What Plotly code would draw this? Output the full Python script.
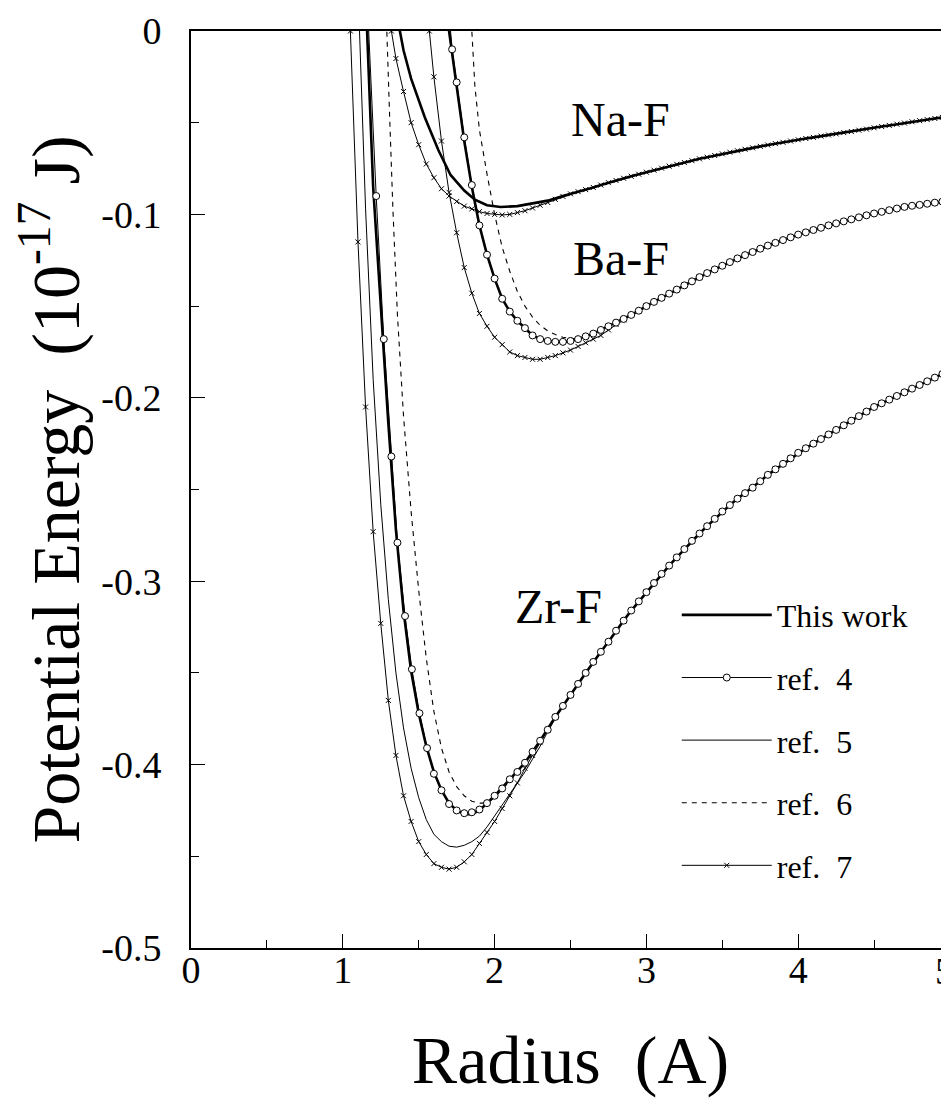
import plotly.graph_objects as go

# ---------------- data ----------------
# shared tails (r >= ~2.5) for each system, 0.05 A step
NA_TAIL_R = [2.65, 2.70, 2.75, 2.80, 2.85, 2.90, 2.95, 3.00, 3.05, 3.10, 3.15, 3.20, 3.25, 3.30, 3.35, 3.40,
             3.45, 3.50, 3.55, 3.60, 3.65, 3.70, 3.75, 3.80, 3.85, 3.90, 3.95, 4.00, 4.05, 4.10, 4.15, 4.20,
             4.25, 4.30, 4.35, 4.40, 4.45, 4.50, 4.55, 4.60, 4.65, 4.70, 4.75, 4.80, 4.85, 4.90, 4.95, 5.00]
NA_TAIL_E = [-0.0853, -0.0840, -0.0827, -0.0815, -0.0803, -0.0792, -0.0781, -0.0770, -0.0759, -0.0748,
             -0.0737, -0.0727, -0.0717, -0.0707, -0.0697, -0.0688, -0.0679, -0.0670, -0.0661, -0.0653,
             -0.0645, -0.0637, -0.0629, -0.0622, -0.0614, -0.0607, -0.0600, -0.0593, -0.0586, -0.0580,
             -0.0573, -0.0567, -0.0561, -0.0554, -0.0548, -0.0541, -0.0535, -0.0528, -0.0521, -0.0515,
             -0.0508, -0.0502, -0.0495, -0.0489, -0.0483, -0.0477, -0.0471, -0.0465]

BA_TAIL_R = [2.50, 2.55, 2.60, 2.65, 2.70, 2.75, 2.80, 2.85, 2.90, 2.95, 3.00, 3.05, 3.10, 3.15, 3.20, 3.25,
             3.30, 3.35, 3.40, 3.45, 3.50, 3.55, 3.60, 3.65, 3.70, 3.75, 3.80, 3.85, 3.90, 3.95, 4.00, 4.05,
             4.10, 4.15, 4.20, 4.25, 4.30, 4.35, 4.40, 4.45, 4.50, 4.55, 4.60, 4.65, 4.70, 4.75, 4.80, 4.85,
             4.90, 4.95, 5.00]
BA_TAIL_E = [-0.1690, -0.1680, -0.1665, -0.1650, -0.1630, -0.1610, -0.1590, -0.1570, -0.1548, -0.1525,
             -0.1500, -0.1477, -0.1455, -0.1432, -0.1410, -0.1387, -0.1365, -0.1342, -0.1320, -0.1300,
             -0.1280, -0.1260, -0.1240, -0.1222, -0.1205, -0.1187, -0.1170, -0.1155, -0.1140, -0.1125,
             -0.1110, -0.1098, -0.1085, -0.1073, -0.1060, -0.1049, -0.1038, -0.1027, -0.1016, -0.1005,
             -0.0995, -0.0986, -0.0977, -0.0968, -0.0959, -0.0953, -0.0948, -0.0942, -0.0936, -0.0930,
             -0.0925]

ZR_TAIL_R = [2.50, 2.55, 2.60, 2.65, 2.70, 2.75, 2.80, 2.85, 2.90, 2.95, 3.00, 3.05, 3.10, 3.15, 3.20, 3.25,
             3.30, 3.35, 3.40, 3.45, 3.50, 3.55, 3.60, 3.65, 3.70, 3.75, 3.80, 3.85, 3.90, 3.95, 4.00, 4.05,
             4.10, 4.15, 4.20, 4.25, 4.30, 4.35, 4.40, 4.45, 4.50, 4.55, 4.60, 4.65, 4.70, 4.75, 4.80, 4.85,
             4.90, 4.95, 5.00]
ZR_TAIL_E = [-0.3620, -0.3560, -0.3500, -0.3440, -0.3385, -0.3330, -0.3270, -0.3215, -0.3160, -0.3110,
             -0.3060, -0.3010, -0.2960, -0.2915, -0.2870, -0.2825, -0.2780, -0.2740, -0.2700, -0.2660,
             -0.2620, -0.2585, -0.2550, -0.2520, -0.2490, -0.2455, -0.2420, -0.2390, -0.2360, -0.2330,
             -0.2300, -0.2275, -0.2250, -0.2225, -0.2200, -0.2175, -0.2150, -0.2125, -0.2100, -0.2075,
             -0.2050, -0.2030, -0.2010, -0.1990, -0.1970, -0.1950, -0.1930, -0.1910, -0.1890, -0.1870,
             -0.1850]

# --- Na-F ---
NA_TW_R = [1.370, 1.376, 1.40, 1.45, 1.54, 1.63, 1.71, 1.80, 1.87, 1.95, 2.04, 2.15, 2.25, 2.35, 2.45, 2.55, 2.60]
NA_TW_E = [0.005, 0.0, -0.0105, -0.026, -0.047, -0.065, -0.0785, -0.087, -0.092, -0.095, -0.096, -0.0955,
           -0.094, -0.0925, -0.0900, -0.0878, -0.0866]
NA_R7_R = [1.32, 1.35, 1.40, 1.45, 1.50, 1.55, 1.60, 1.65, 1.70, 1.75, 1.80, 1.85, 1.90, 1.95, 2.00, 2.05,
           2.10, 2.15, 2.20, 2.25, 2.30, 2.35, 2.40, 2.45, 2.50, 2.55, 2.60]
NA_R7_E = [0.0, -0.015, -0.033, -0.050, -0.062, -0.0725, -0.080, -0.086, -0.090, -0.093, -0.0955, -0.097,
           -0.0985, -0.0995, -0.100, -0.1003, -0.100, -0.099, -0.098, -0.0965, -0.095, -0.0935, -0.0918,
           -0.0902, -0.0888, -0.0876, -0.0865]

# --- Ba-F ---
BA_TW_R = [1.695, 1.70, 1.75, 1.80, 1.85, 1.90, 1.95, 2.00, 2.05, 2.10, 2.15, 2.20, 2.25, 2.30, 2.35, 2.40, 2.45]
BA_TW_E = [0.005, 0.0, -0.030, -0.060, -0.085, -0.106, -0.122, -0.135, -0.146, -0.153, -0.158, -0.162,
           -0.166, -0.168, -0.169, -0.1695, -0.1695]
BA_R4_R = [1.705, 1.72, 1.75, 1.80, 1.85, 1.90, 1.95, 2.00, 2.05, 2.10, 2.15, 2.20, 2.25, 2.30, 2.35, 2.40, 2.45]
BA_R4_E = [0.005, -0.010, -0.028, -0.058, -0.084, -0.106, -0.122, -0.135, -0.146, -0.153, -0.158, -0.162,
           -0.166, -0.168, -0.169, -0.1695, -0.1695]
BA_R6_R = [1.845, 1.85, 1.87, 1.90, 1.95, 2.00, 2.05, 2.10, 2.15, 2.20, 2.25, 2.30, 2.35, 2.40, 2.45]
BA_R6_E = [0.005, 0.0, -0.030, -0.054, -0.078, -0.100, -0.118, -0.131, -0.142, -0.150, -0.156, -0.1605,
           -0.1635, -0.1655, -0.167]
BA_R7_R = [1.57, 1.60, 1.65, 1.70, 1.75, 1.80, 1.85, 1.90, 1.95, 2.00, 2.05, 2.10, 2.15, 2.20, 2.25, 2.30,
           2.35, 2.40, 2.45, 2.50, 2.55, 2.60, 2.65, 2.70, 2.75, 2.80, 2.85, 2.90]
BA_R7_E = [0.0, -0.025, -0.060, -0.088, -0.110, -0.129, -0.143, -0.154, -0.161, -0.167, -0.171, -0.175,
           -0.177, -0.178, -0.179, -0.179, -0.178, -0.177, -0.1755, -0.174, -0.172, -0.170, -0.168, -0.166,
           -0.163, -0.160, -0.1575, -0.155]

# --- Zr-F ---
ZR_TW_R = [1.155, 1.16, 1.20, 1.25, 1.30, 1.35, 1.40, 1.45, 1.50, 1.55, 1.60, 1.65, 1.70, 1.75, 1.80, 1.85,
           1.90, 1.95, 2.00, 2.10, 2.20, 2.30, 2.40]
ZR_TW_E = [0.005, 0.0, -0.085, -0.152, -0.214, -0.272, -0.316, -0.349, -0.372, -0.390, -0.404, -0.414,
           -0.421, -0.425, -0.427, -0.427, -0.425, -0.421, -0.417, -0.408, -0.399, -0.387, -0.374]
ZR_R4_R = [1.165, 1.22, 1.27, 1.32, 1.36, 1.41, 1.455, 1.505, 1.555, 1.60, 1.65, 1.70, 1.75, 1.80, 1.85,
           1.90, 1.95, 2.00, 2.05, 2.10, 2.15, 2.20, 2.25, 2.30, 2.35, 2.40, 2.45]
ZR_R4_E = [0.010, -0.090, -0.168, -0.232, -0.279, -0.319, -0.348, -0.372, -0.391, -0.405, -0.414, -0.4215,
           -0.425, -0.4265, -0.426, -0.4245, -0.421, -0.417, -0.413, -0.408, -0.404, -0.399, -0.393, -0.387,
           -0.381, -0.374, -0.368]
ZR_R5_R = [1.105, 1.11, 1.15, 1.20, 1.25, 1.30, 1.35, 1.40, 1.45, 1.50, 1.55, 1.60, 1.65, 1.70, 1.75, 1.80,
           1.85, 1.90, 1.95, 2.00, 2.05, 2.10, 2.15, 2.20, 2.25, 2.30, 2.35, 2.40, 2.45]
ZR_R5_E = [0.005, 0.0, -0.097, -0.190, -0.258, -0.310, -0.350, -0.380, -0.402, -0.418, -0.430, -0.438,
           -0.442, -0.4445, -0.445, -0.444, -0.442, -0.439, -0.434, -0.428, -0.422, -0.416, -0.410, -0.404,
           -0.397, -0.390, -0.382, -0.375, -0.368]
ZR_R6_R = [1.285, 1.29, 1.31, 1.33, 1.36, 1.40, 1.45, 1.50, 1.55, 1.60, 1.65, 1.70, 1.75, 1.80, 1.85, 1.90,
           1.95, 2.00, 2.10, 2.20, 2.30, 2.40]
ZR_R6_E = [0.005, 0.0, -0.050, -0.097, -0.155, -0.210, -0.262, -0.305, -0.342, -0.371, -0.391, -0.404,
           -0.412, -0.417, -0.420, -0.421, -0.421, -0.418, -0.409, -0.3995, -0.387, -0.374]
ZR_R7_R = [1.05, 1.10, 1.15, 1.20, 1.25, 1.30, 1.35, 1.40, 1.45, 1.50, 1.55, 1.60, 1.65, 1.70, 1.75, 1.80,
           1.85, 1.90, 1.95, 2.00, 2.05, 2.10, 2.15, 2.20, 2.25, 2.30, 2.35, 2.40, 2.45]
ZR_R7_E = [0.0, -0.115, -0.205, -0.273, -0.323, -0.365, -0.395, -0.417, -0.431, -0.442, -0.449, -0.454,
           -0.456, -0.457, -0.456, -0.453, -0.449, -0.443, -0.437, -0.431, -0.424, -0.417, -0.410, -0.402,
           -0.395, -0.388, -0.381, -0.374, -0.368]

LABELS = ["Na-F", "Ba-F", "Zr-F"]
LABEL_R = [2.83, 2.83, 2.42]
LABEL_E = [-0.0485, -0.124, -0.314]

X_TICKS = [0, 1, 2, 3, 4, 5]
X_TICKTEXT = ["0", "1", "2", "3", "4", ""]   # last label drawn separately, nudged inside the page
X_LAST_TICK = 5
X_LAST_TEXT = "5"
Y_TICKS = [-0.5, -0.4, -0.3, -0.2, -0.1, 0]
Y_TICKTEXT = ["-0.5", "-0.4", "-0.3", "-0.2", "-0.1", "0"]

# ---------------- figure ----------------
FONT = "Liberation Serif, Times New Roman, serif"
fig = go.Figure()

styles = {
    "tw": dict(name="This work", rank=1, mode="lines", line=dict(color="black", width=2.6)),
    "r4": dict(name="ref.  4", rank=2, mode="lines+markers", line=dict(color="black", width=1),
               marker=dict(symbol="circle", size=7, color="white", line=dict(color="black", width=1))),
    "r5": dict(name="ref.  5", rank=3, mode="lines", line=dict(color="black", width=1)),
    "r6": dict(name="ref.  6", rank=4, mode="lines", line=dict(color="black", width=1.1, dash="5px,5px")),
    "r7": dict(name="ref.  7", rank=5, mode="lines+markers", line=dict(color="black", width=1),
               marker=dict(symbol="x-thin", size=5, color="black", line=dict(color="black", width=1))),
}

series = [
    ("r6", ZR_R6_R + ZR_TAIL_R[2:], ZR_R6_E + ZR_TAIL_E[2:], True),
    ("r6", BA_R6_R + BA_TAIL_R[1:], BA_R6_E + BA_TAIL_E[1:], False),
    ("r5", ZR_R5_R + ZR_TAIL_R, ZR_R5_E + ZR_TAIL_E, True),
    ("tw", ZR_TW_R + ZR_TAIL_R[2:], ZR_TW_E + ZR_TAIL_E[2:], True),
    ("tw", BA_TW_R + BA_TAIL_R, BA_TW_E + BA_TAIL_E, False),
    ("tw", NA_TW_R + NA_TAIL_R, NA_TW_E + NA_TAIL_E, False),
    ("r7", ZR_R7_R + ZR_TAIL_R, ZR_R7_E + ZR_TAIL_E, True),
    ("r7", BA_R7_R + BA_TAIL_R[9:], BA_R7_E + BA_TAIL_E[9:], False),
    ("r7", NA_R7_R + NA_TAIL_R, NA_R7_E + NA_TAIL_E, False),
    ("r4", ZR_R4_R + ZR_TAIL_R, ZR_R4_E + ZR_TAIL_E, True),
    ("r4", BA_R4_R + BA_TAIL_R, BA_R4_E + BA_TAIL_E, False),
]

for key, r, e, show in series:
    st = styles[key]
    kw = dict(x=r, y=e, mode=st["mode"], line=st["line"], name=st["name"], legendgroup=key,
              legendrank=st["rank"], showlegend=show, hoverinfo="skip")
    if "marker" in st:
        kw["marker"] = st["marker"]
    fig.add_trace(go.Scatter(**kw))

for lab, lr, le in zip(LABELS, LABEL_R, LABEL_E):
    fig.add_annotation(x=lr, y=le, text=lab, showarrow=False,
                       font=dict(family=FONT, size=48, color="black"))

# last x tick label, anchored to the axis value but kept inside the page
fig.add_annotation(x=X_LAST_TICK, xref="x", y=0, yref="paper", text=X_LAST_TEXT, showarrow=False,
                   xanchor="right", yanchor="middle", xshift=6, yshift=-23,
                   font=dict(family=FONT, size=38, color="black"))

fig.update_layout(
    width=949, height=1109,
    paper_bgcolor="white", plot_bgcolor="white",
    margin=dict(l=183, r=7, t=23, b=169, autoexpand=False),
    font=dict(family=FONT, color="black"),
    showlegend=True,
    legend=dict(x=0.64, y=0.393, xanchor="left", yanchor="top", bgcolor="rgba(0,0,0,0)",
                font=dict(family=FONT, size=32, color="black"), traceorder="grouped",
                tracegroupgap=18, itemwidth=90),
    xaxis=dict(range=[0, 5], tickvals=X_TICKS, ticktext=X_TICKTEXT, ticks="inside", ticklen=14, tickwidth=1,
               tickcolor="black", showline=True, linecolor="black", linewidth=2, mirror=True,
               showgrid=False, zeroline=False, tickfont=dict(family=FONT, size=38),
               ticklabelstandoff=-13, ticklabeloverflow="allow", automargin=False,
               minor=dict(dtick=0.5, ticks="inside", ticklen=8, tickcolor="black", showgrid=False),
               title=dict(text="Radius  (A)", font=dict(family=FONT, size=68), standoff=46)),
    yaxis=dict(range=[-0.5, 0], tickvals=Y_TICKS, ticktext=Y_TICKTEXT, ticks="inside", ticklen=14,
               tickwidth=1, tickcolor="black", showline=True, linecolor="black", linewidth=2, mirror=True,
               showgrid=False, zeroline=False, tickfont=dict(family=FONT, size=38),
               ticklabelstandoff=20, ticklabeloverflow="allow", automargin=False,
               minor=dict(dtick=0.05, ticks="inside", ticklen=8, tickcolor="black", showgrid=False),
               title=dict(text="Potential Energy  (10<sup>-17</sup> J)", font=dict(family=FONT, size=68),
                          standoff=40)),
)

fig.write_html("out.html")
